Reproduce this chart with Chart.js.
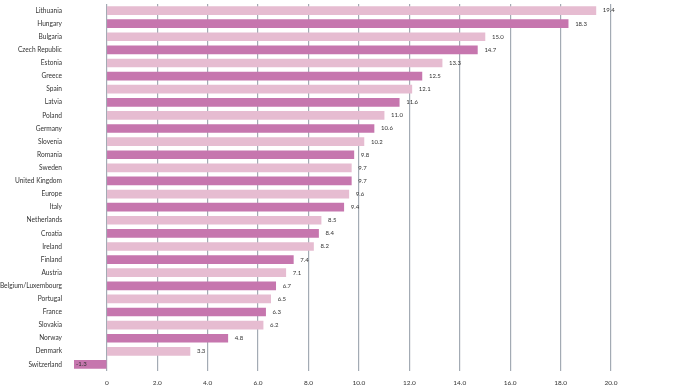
<!DOCTYPE html>
<html><head><meta charset="utf-8">
<script src="https://cdn.jsdelivr.net/npm/chart.js@4/dist/chart.umd.min.js"></script>
<style>html,body{margin:0;padding:0;background:#fff}#wrap{width:685px;height:392px}</style>
</head><body><div id="wrap"><canvas id="c" width="685" height="392"></canvas></div>
<script>
const categories = ["Lithuania","Hungary","Bulgaria","Czech Republic","Estonia","Greece","Spain","Latvia","Poland","Germany","Slovenia","Romania","Sweden","United Kingdom","Europe","Italy","Netherlands","Croatia","Ireland","Finland","Austria","Belgium/Luxembourg","Portugal","France","Slovakia","Norway","Denmark","Switzerland"];
const values = [19.4,18.3,15.0,14.7,13.3,12.5,12.1,11.6,11.0,10.6,10.2,9.8,9.7,9.7,9.6,9.4,8.5,8.4,8.2,7.4,7.1,6.7,6.5,6.3,6.2,4.8,3.3,-1.3];
const tickValues = [0,2,4,6,8,10,12,14,16,18,20];
const tickLabels = ["0","2.0","4.0","6.0","8.0","10.0","12.0","14.0","16.0","18.0","20.0"];
const LIGHT = "#e6bcd1", DARK = "#c676ae";
const FONT = "Lato, 'Open Sans', sans-serif";

const labelPlugin = {
  id: 'vals',
  afterDatasetsDraw(chart) {
    const ctx = chart.ctx;
    const meta = chart.getDatasetMeta(0);
    ctx.save();
    ctx.font = "6px " + FONT;
    ctx.fillStyle = "#333";
    ctx.textBaseline = "middle";
    ctx.textAlign = "left";
    meta.data.forEach((bar, i) => {
      const v = values[i];
      const txt = v.toFixed(1);
      if (v >= 0) ctx.fillText(txt, bar.x + 7, bar.y);
      else ctx.fillText(txt, bar.x + 2, bar.y);
    });
    ctx.restore();
  }
};

new Chart(document.getElementById('c'), {
  type: 'bar',
  data: {
    labels: categories,
    datasets: [{
      data: values,
      backgroundColor: values.map((v, i) => i % 2 === 0 ? LIGHT : DARK),
      barThickness: 8,
      borderWidth: 0
    }]
  },
  options: {
    indexAxis: 'y',
    responsive: false,
    animation: false,
    layout: { padding: { top: 4, right: 74, bottom: 0, left: 0 } },
    plugins: { legend: { display: false }, tooltip: { enabled: false } },
    scales: {
      x: {
        min: -1.3, max: 20,
        afterBuildTicks(axis) { axis.ticks = tickValues.map(v => ({ value: v })); },
        afterFit(axis) { axis.height = 21; axis.paddingLeft = 0; axis.paddingRight = 0; },
        grid: { color: "#a3abb4", lineWidth: 1.2, drawTicks: false },
        border: { display: false },
        ticks: {
          padding: 8,
          font: { size: 6.5, family: FONT },
          color: "#333",
          callback: (v) => { const k = tickValues.indexOf(v); return k >= 0 ? tickLabels[k] : ""; }
        }
      },
      y: {
        grid: { display: false, drawTicks: false },
        border: { display: false },
        afterFit(axis) { axis.width = 74; axis.paddingTop = 0; axis.paddingBottom = 0; },
        ticks: {
          padding: 12,
          font: { size: 6.6, family: FONT },
          color: "#333",
          autoSkip: false
        }
      }
    }
  },
  plugins: [labelPlugin]
});
</script></body></html>
